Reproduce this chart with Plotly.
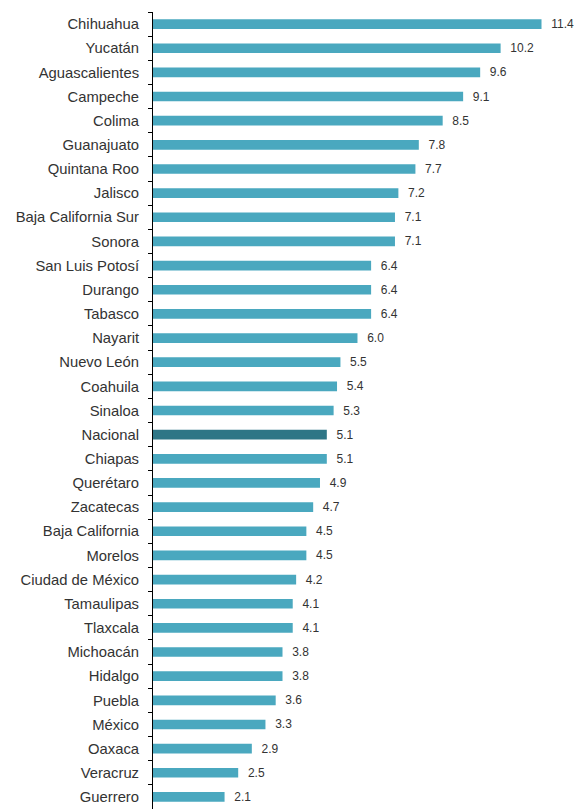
import plotly.graph_objects as go

states = ["Chihuahua", "Yucatán", "Aguascalientes", "Campeche", "Colima", "Guanajuato",
          "Quintana Roo", "Jalisco", "Baja California Sur", "Sonora", "San Luis Potosí",
          "Durango", "Tabasco", "Nayarit", "Nuevo León", "Coahuila", "Sinaloa", "Nacional",
          "Chiapas", "Querétaro", "Zacatecas", "Baja California", "Morelos",
          "Ciudad de México", "Tamaulipas", "Tlaxcala", "Michoacán", "Hidalgo", "Puebla",
          "México", "Oaxaca", "Veracruz", "Guerrero"]
values = [11.4, 10.2, 9.6, 9.1, 8.5, 7.8, 7.7, 7.2, 7.1, 7.1, 6.4, 6.4, 6.4, 6.0, 5.5,
          5.4, 5.3, 5.1, 5.1, 4.9, 4.7, 4.5, 4.5, 4.2, 4.1, 4.1, 3.8, 3.8, 3.6, 3.3, 2.9,
          2.5, 2.1]
highlight = "Nacional"

light = "#4AA8BF"
dark = "#2E7686"
colors = [dark if s == highlight else light for s in states]

fig = go.Figure(go.Bar(
    x=values, y=states, orientation="h",
    marker=dict(color=colors, line=dict(width=0)),
    texttemplate="  %{x:.1f}", textposition="outside", constraintext="none",
    textfont=dict(family="Liberation Sans, Arial", size=12, color="#333333"),
    cliponaxis=False,
))

# the page body adds an 8px offset, so the figure is sized to the remaining window
fig.update_layout(
    width=574, height=801,
    margin=dict(l=145, r=3, t=4, b=0, autoexpand=False),
    plot_bgcolor="white", paper_bgcolor="white",
    bargap=0.6,
    showlegend=False,
    xaxis=dict(range=[0, 12.5], visible=False, automargin=False),
    yaxis=dict(
        autorange="reversed", automargin=False,
        showline=True, linecolor="black", linewidth=1,
        ticks="outside", tickson="boundaries", ticklen=4, tickcolor="black",
        ticklabelstandoff=10,
        tickfont=dict(family="Liberation Sans, Arial", size=14.8, color="#333333"),
        showgrid=False, zeroline=False,
    ),
)

fig.write_html(
    "out.html",
    post_script="document.documentElement.style.overflow='hidden';"
                "document.body.style.overflow='hidden';",
)
